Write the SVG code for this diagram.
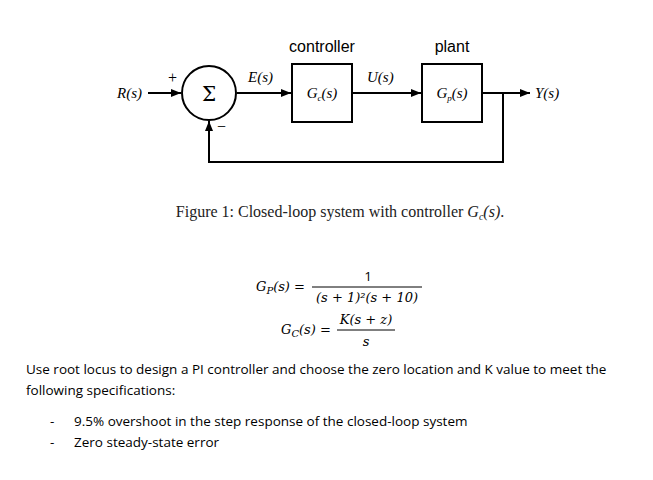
<svg xmlns="http://www.w3.org/2000/svg" width="653" height="480" viewBox="0 0 653 480">
<style>
.ln{stroke:#000;stroke-width:2;fill:none}
.t{font-family:"Liberation Serif",serif;font-size:15px;font-style:italic}
.h{font-family:"Liberation Sans",sans-serif;font-size:16px}
.c{font-family:"Liberation Serif",serif;font-size:16px}
.m{font-family:"DejaVu Serif",serif;font-size:13px;font-style:italic}
.b{font-family:"Open Sans","Liberation Sans",sans-serif;font-size:13.5px}
</style>
<defs><marker id="a" viewBox="0 0 10 10" refX="10" refY="5" markerWidth="5" markerHeight="5" orient="auto"><path d="M0,1L10,5L0,9z"/></marker></defs>
<rect width="653" height="480" fill="#fff"/>
<g id="connectors" class="ln">
<path d="M148,93H181" marker-end="url(#a)"/>
<path d="M237,93H291" marker-end="url(#a)"/>
<path d="M353,93H421" marker-end="url(#a)"/>
<path d="M483,93H530" marker-end="url(#a)"/>
<path d="M503,93V162H209V121" marker-end="url(#a)"/>
</g>
<g id="sum"><circle cx="209" cy="93" r="27" class="ln"/><text x="209" y="101" font-family="DejaVu Serif,serif" font-size="20" text-anchor="middle">Σ</text>
<text x="168" y="83" class="c" font-size="13">+</text><text x="217" y="132" class="c">−</text></g>
<g id="controller"><rect x="292" y="64" width="60" height="58" class="ln"/><text x="322" y="98" class="t" text-anchor="middle">G<tspan font-size="9" dy="3">c</tspan><tspan dy="-3">(s)</tspan></text><text x="322" y="52" class="h" text-anchor="middle">controller</text></g>
<g id="plant"><rect x="422" y="64" width="60" height="58" class="ln"/><text x="452" y="98" class="t" text-anchor="middle">G<tspan font-size="9" dy="3">p</tspan><tspan dy="-3">(s)</tspan></text><text x="452" y="52" class="h" text-anchor="middle">plant</text></g>
<g id="labels">
<text x="117" y="98" class="t">R(s)</text>
<text x="248" y="82" class="t">E(s)</text>
<text x="367" y="82" class="t">U(s)</text>
<text x="535" y="98" class="t">Y(s)</text>
</g>
<text x="340" y="217" class="c" text-anchor="middle" fill="#222">Figure 1: Closed-loop system with controller <tspan font-style="italic">G<tspan font-size="10" dy="3">c</tspan><tspan dy="-3">(s)</tspan></tspan>.</text>
<g id="eq">
<text x="256" y="291" class="m">G<tspan font-size="10" dy="3">P</tspan><tspan dy="-3">(s) =</tspan></text>
<text x="368" y="281" class="b" font-size="12" text-anchor="middle">1</text>
<line x1="312" y1="287" x2="422" y2="287" stroke="#000"/>
<text x="367" y="302" class="m" text-anchor="middle" font-style="normal">(<tspan font-style="italic">s</tspan> + 1)²(<tspan font-style="italic">s</tspan> + 10)</text>
<text x="281" y="334" class="m">G<tspan font-size="10" dy="3">C</tspan><tspan dy="-3">(s) =</tspan></text>
<text x="366" y="324" class="m" text-anchor="middle">K(s + z)</text>
<line x1="337" y1="330" x2="395" y2="330" stroke="#000"/>
<text x="366" y="346" class="m" text-anchor="middle">s</text>
</g>
<g class="b">
<text x="26" y="374">Use root locus to design a PI controller and choose the zero location and K value to meet the</text>
<text x="26" y="395">following specifications:</text>
<text x="50" y="426">-</text><text x="74" y="426">9.5% overshoot in the step response of the closed-loop system</text>
<text x="50" y="447">-</text><text x="74" y="447">Zero steady-state error</text>
</g>
</svg>
